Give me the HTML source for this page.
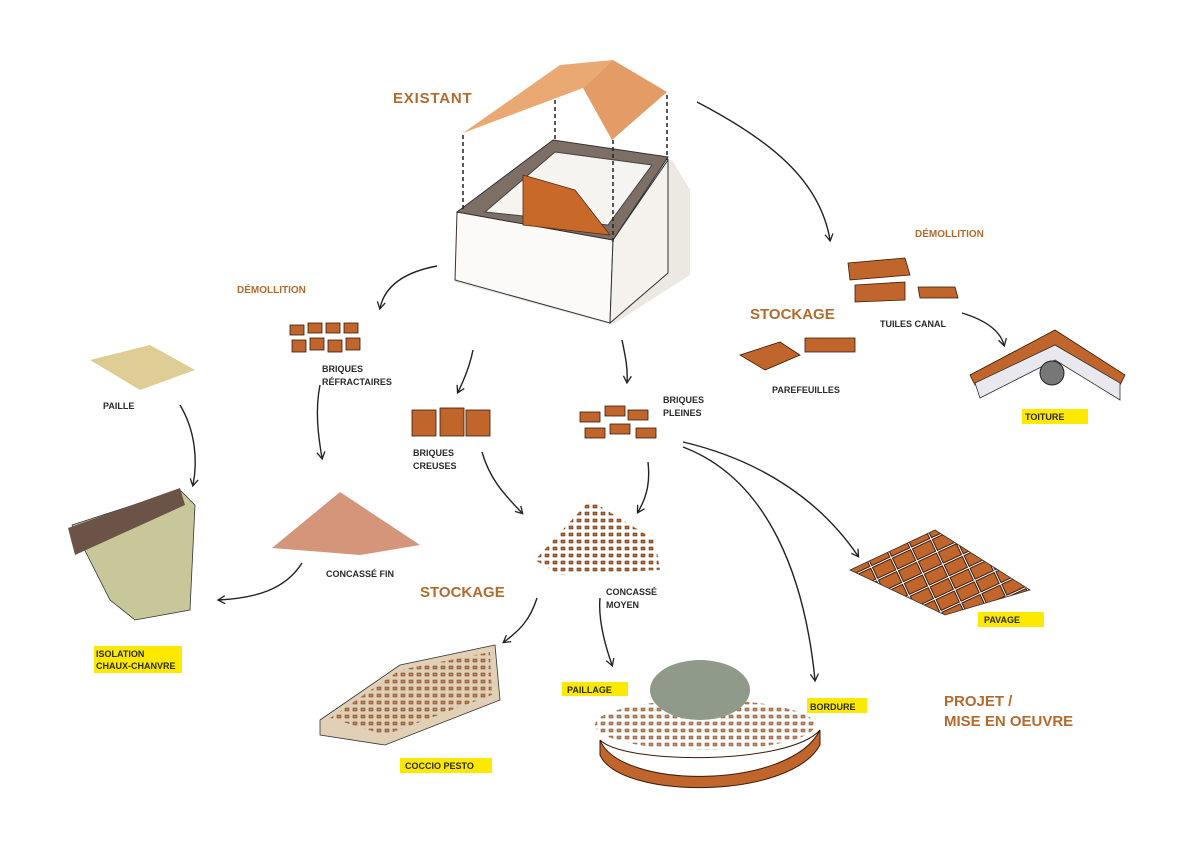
<!DOCTYPE html>
<html><head><meta charset="utf-8"><style>
html,body{margin:0;padding:0;background:#fff}
svg{display:block}
.b{font-family:"Liberation Sans",sans-serif;font-weight:bold;fill:#b36a2e}
.s{font-family:"Liberation Sans",sans-serif;font-weight:bold;font-size:9px;fill:#2a2a2a}
</style></head><body>
<svg width="1191" height="841" viewBox="0 0 1191 841" xmlns="http://www.w3.org/2000/svg">
<defs><marker id="a" markerWidth="10" markerHeight="10" refX="7" refY="5" orient="auto" markerUnits="userSpaceOnUse"><path d="M1,1 L8,5 L1,9" fill="none" stroke="#222" stroke-width="1.3"/></marker>
<pattern id="dots" width="8" height="7" patternUnits="userSpaceOnUse"><rect x="1" y="1" width="4" height="3" fill="#c06a30" stroke="#3a1a0a" stroke-width=".5"/></pattern>
<pattern id="pave" width="22" height="14" patternUnits="userSpaceOnUse" patternTransform="rotate(-25)"><rect x="1" y="1" width="20" height="12" fill="#c0652b" stroke="#3a1a0a" stroke-width="1"/></pattern>
</defs>
<!-- house -->
<polygon points="460,212 555,142 672,160 690,190 690,275 612,325 455,282" fill="#ece8e2"/>
<polygon points="457,212 613,240 610,323 455,280" fill="#fbfaf8" stroke="#333" stroke-width="1"/>
<polygon points="613,240 668,160 668,273 610,323" fill="#f5f2ee" stroke="#333" stroke-width="1"/>
<polygon points="457,212 553,140 668,157 613,240" fill="#7d6e66" stroke="#333"/>
<polygon points="485,212 555,152 652,165 608,225" fill="#f6f4f1" stroke="#444"/>
<polygon points="523,175 575,190 610,235 523,225" fill="#c8692a" stroke="#5a2a10" stroke-width=".8"/>
<g stroke="#222" stroke-width="1.5" stroke-dasharray="4,3"><line x1="463" y1="135" x2="463" y2="210"/><line x1="555" y1="100" x2="555" y2="140"/><line x1="613" y1="140" x2="613" y2="245"/><line x1="667" y1="95" x2="667" y2="160"/></g>
<polygon points="463,133 560,65 613,60 583,88" fill="#eaa872"/>
<polygon points="613,60 667,92 612,140 583,88" fill="#e39c66"/>
<text class="b" x="393" y="103" font-size="15" letter-spacing="0.8">EXISTANT</text>
<!-- labels -->
<text class="b" x="237" y="293" font-size="10">DÉMOLLITION</text>
<text class="b" x="915" y="237" font-size="10">DÉMOLLITION</text>
<text class="b" x="750" y="319" font-size="15">STOCKAGE</text>
<text class="b" x="420" y="597" font-size="15">STOCKAGE</text>
<text class="b" x="944" y="706" font-size="15">PROJET /</text>
<text class="b" x="944" y="726" font-size="15">MISE EN OEUVRE</text>
<text class="s" x="880" y="327">TUILES CANAL</text>
<text class="s" x="772" y="393">PAREFEUILLES</text>
<text class="s" x="322" y="372">BRIQUES</text><text class="s" x="322" y="385">RÉFRACTAIRES</text>
<text class="s" x="103" y="409">PAILLE</text>
<text class="s" x="413" y="456">BRIQUES</text><text class="s" x="413" y="469">CREUSES</text>
<text class="s" x="663" y="403">BRIQUES</text><text class="s" x="663" y="416">PLEINES</text>
<text class="s" x="326" y="577">CONCASSÉ FIN</text>
<text class="s" x="606" y="595">CONCASSÉ</text><text class="s" x="606" y="608">MOYEN</text>
<g fill="#fde800"><rect x="1022" y="409" width="66" height="15"/><rect x="978" y="612" width="66" height="15"/><rect x="94" y="646" width="88" height="27"/><rect x="562" y="682" width="66" height="14"/><rect x="807" y="698" width="60" height="15"/><rect x="400" y="758" width="92" height="15"/></g>
<text class="s" x="1025" y="420">TOITURE</text><text class="s" x="984" y="623">PAVAGE</text>
<text class="s" x="96" y="657">ISOLATION</text><text class="s" x="96" y="669">CHAUX-CHANVRE</text>
<text class="s" x="567" y="693">PAILLAGE</text><text class="s" x="810" y="710">BORDURE</text><text class="s" x="405" y="769">COCCIO PESTO</text>
<!-- arrows -->
<g fill="none" stroke="#222" stroke-width="1.4" marker-end="url(#a)">
<path d="M697,102 C770,140 820,180 830,240"/>
<path d="M437,266 C405,272 385,285 380,308"/>
<path d="M473,350 C470,365 465,378 458,392"/>
<path d="M622,340 C625,355 628,367 627,382"/>
<path d="M320,385 C315,410 318,435 322,458"/>
<path d="M180,405 C195,430 198,460 193,485"/>
<path d="M482,452 C490,480 505,495 522,513"/>
<path d="M648,462 C650,480 648,495 638,512"/>
<path d="M962,313 C985,320 1000,330 1004,345"/>
<path d="M302,563 C285,590 255,598 219,600"/>
<path d="M537,598 C530,620 520,630 504,642"/>
<path d="M600,598 C598,620 605,645 612,665"/>
<path d="M683,442 C760,460 820,500 858,556"/>
<path d="M683,447 C770,480 805,580 815,680"/>
</g>
<!-- materials -->
<g fill="#c0652b" stroke="#3a1a0a" stroke-width=".8">
<rect x="290" y="325" width="14" height="10"/><rect x="308" y="323" width="14" height="10"/><rect x="326" y="323" width="14" height="10"/><rect x="344" y="323" width="14" height="10"/>
<rect x="292" y="340" width="14" height="12"/><rect x="310" y="338" width="14" height="12"/><rect x="328" y="340" width="14" height="12"/><rect x="346" y="338" width="14" height="12"/>
<rect x="412" y="410" width="24" height="26"/><rect x="440" y="408" width="24" height="28"/><rect x="466" y="410" width="24" height="26"/>
<rect x="580" y="412" width="20" height="10"/><rect x="605" y="406" width="20" height="10"/><rect x="628" y="410" width="20" height="10"/>
<rect x="585" y="428" width="20" height="10"/><rect x="610" y="424" width="20" height="10"/><rect x="636" y="428" width="20" height="10"/>
<polygon points="848,263 905,258 910,275 850,280"/>
<polygon points="855,285 905,282 905,300 855,302"/>
<polygon points="918,287 955,287 958,298 920,298"/>
<polygon points="740,355 780,342 800,355 765,370"/>
<polygon points="805,338 855,338 855,352 805,352"/>
<polygon points="970,375 1055,330 1125,375 1120,385 1055,345 975,385"/>
</g>
<polygon points="850,570 935,530 1030,590 945,615" fill="url(#pave)" stroke="#333" stroke-width=".8"/>
<polygon points="975,383 1055,345 1120,383 1120,400 1055,360 980,398" fill="#e8e8ee" stroke="#333" stroke-width=".8"/>
<circle cx="1052" cy="373" r="12" fill="#777" stroke="#222"/>
<polygon points="272,548 340,492 420,545 360,555" fill="#d4957a"/>
<polygon points="535,560 590,500 655,540 660,570 560,575" fill="url(#dots)"/>
<polygon points="320,720 400,665 495,645 500,700 385,745 320,735" fill="#e2d0b6" stroke="#333" stroke-width=".8"/>
<polygon points="330,718 400,670 490,652 492,695 385,735" fill="url(#dots)" opacity=".8"/>
<polygon points="90,360 150,345 195,370 140,390" fill="#d6c07a" opacity=".8"/>
<polygon points="72,525 180,490 195,505 190,610 135,620 110,600" fill="#c7c79a" stroke="#333" stroke-width=".8"/>
<polygon points="68,528 180,488 185,505 75,555" fill="#6b5348"/>
<ellipse cx="705" cy="725" rx="110" ry="25" fill="url(#dots)" opacity=".8"/>
<ellipse cx="700" cy="690" rx="50" ry="30" fill="#8f9a8a"/>
<path d="M600,740 C620,790 790,790 820,730 L820,745 C790,800 620,800 600,755 Z" fill="#c0652b" stroke="#3a1a0a"/>
<path d="M600,740 C625,765 790,765 820,730" fill="none" stroke="#3a1a0a"/>
</svg>
</body></html>
